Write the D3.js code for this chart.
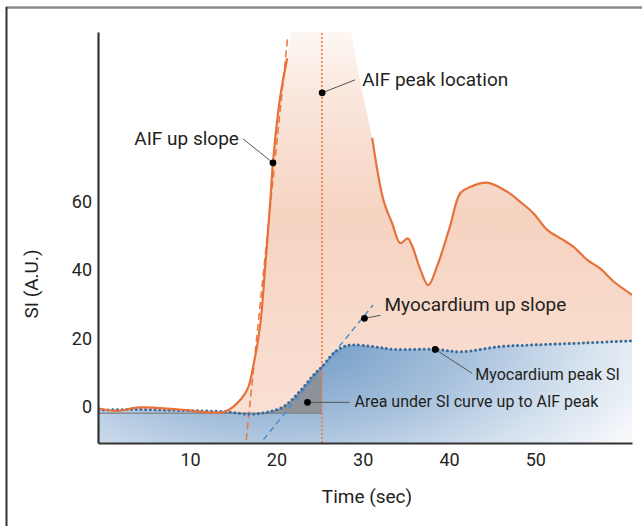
<!DOCTYPE html>
<html lang="en">

<head>
    <meta charset="UTF-8">
    <title>AIF and myocardium SI curves</title>
    <style>
        body { margin: 0; background: #fff; }
        svg { display: block; }
    </style>
</head>

<body>
    <script src="https://d3js.org/d3.v7.min.js"></script>
    <div id="chart"></div>
    <script>

        const width = 642;
        const height = 526;

        // data: arterial input function (orange) and myocardium (blue dotted)
        const aifTime = [-0.6, 1.5, 4.2, 8.8, 13.8, 15.0, 16.6, 17.3, 18.1, 18.7, 19.3, 19.6, 20.4, 21.25,
            21.9, 23.0, 25.0, 27.0, 28.6, 29.8,
            31.1, 32.4, 33.4, 34.35, 35.2, 35.7, 36.7, 37.6, 38.6, 40.1, 41.3, 42.5, 44.4, 46.7, 48.25,
            49.8, 51.4, 52.9, 54.4, 56.0, 57.5, 59.1, 61.2];
        const aifSI = [-0.5, -1.2, -0.2, -0.8, -1.6, 0, 4.9, 11.7, 23.4, 41, 60.5, 71.4, 90, 102,
            112, 128, 136, 127, 110, 94,
            78.7, 60.5, 53.8, 47.9, 49.3, 47.3, 40, 35.6, 41, 52.7, 62.5, 64.4, 65.6, 63, 60,
            56.6, 51.7, 49.3, 46.9, 43, 40.5, 36.6, 32.8];
        // the drawn AIF line is broken where it leaves the panel
        const aifLineBreak = [21.3, 31.0];

        const myoTime = [-0.6, 3.4, 7.3, 11.2, 14.3, 17.0, 18.9, 20.8, 22.75, 24.3, 25.27, 26.6, 27.8, 28.9,
            31.25, 33.6, 38.4, 41.3, 45.9, 49.8, 56.0, 61.2];
        const myoSI = [-1, -0.8, -1, -1.2, -1.5, -2.2, -1.6, 0, 4.6, 9.3, 11.7, 15.6, 17.6, 18.1,
            17.6, 16.8, 16.8, 16.1, 17.6, 18.1, 18.7, 19.3];

        const baselineSI = -1.9;
        const aifPeakTime = 25.27;

        // tangent lines (two end points each)
        const aifSlopeT = [16.5, 21.3], aifSlopeV = [-9.8, 108];
        const myoSlopeT = [18.5, 31.2], myoSlopeV = [-9.6, 29.8];

        // annotations
        const noteText = ["AIF up slope", "AIF peak location", "Myocardium up slope", "Myocardium peak SI", "Area under SI curve up to AIF peak"];
        const noteT = [19.6, 25.3, 30.2, 38.4, 23.6];
        const noteV = [71.4, 91.9, 25.9, 16.8, 1.3];

        const xTicks = [10, 20, 30, 40, 50];
        const yTicks = [0, 20, 40, 60];

        // layout
        const x = d3.scaleLinear().domain([-0.67, 61.2]).range([98, 632]);
        const y = d3.scaleLinear().domain([-10.6, 109.7]).range([443, 32]);

        const svg = d3.select("#chart").append("svg")
            .attr("width", width)
            .attr("height", height)
            .attr("font-family", "Roboto, sans-serif");

        const defs = svg.append("defs");

        defs.append("clipPath").attr("id", "plot")
            .append("rect")
            .attr("x", x.range()[0]).attr("y", y.range()[1])
            .attr("width", x.range()[1] - x.range()[0])
            .attr("height", y.range()[0] - y.range()[1]);

        const peach = defs.append("linearGradient").attr("id", "peach")
            .attr("gradientUnits", "userSpaceOnUse")
            .attr("x1", 0).attr("x2", 0).attr("y1", y.range()[1]).attr("y2", y.range()[0]);
        [[0, "#fdf7f3"], [0.15, "#fae7dd"], [0.45, "#f6d3c1"], [1, "#fae2d6"]].forEach(s =>
            peach.append("stop").attr("offset", s[0]).attr("stop-color", s[1]));

        const blue = defs.append("radialGradient").attr("id", "blue")
            .attr("gradientUnits", "userSpaceOnUse")
            .attr("cx", 0).attr("cy", 0).attr("r", 1)
            .attr("gradientTransform", "translate(280,340) scale(400,190)");
        [[0, "#6a96c3"], [0.45, "#a4bfdb"], [0.75, "#d3e0ee"], [1, "#f6f8fb"]].forEach(s =>
            blue.append("stop").attr("offset", s[0]).attr("stop-color", s[1]));

        const aif = aifTime.map((t, i) => ({ t: t, v: aifSI[i] }));
        const myo = myoTime.map((t, i) => ({ t: t, v: myoSI[i] }));

        const curve = d3.curveCatmullRom.alpha(0.5);
        const line = d3.line().x(d => x(d.t)).y(d => y(d.v)).curve(curve);
        const area = d3.area().x(d => x(d.t)).y0(y.range()[0]).y1(d => y(d.v)).curve(curve);

        const plot = svg.append("g").attr("clip-path", "url(#plot)");

        // fills
        plot.append("path").datum(aif).attr("d", area).attr("fill", "url(#peach)");
        plot.append("path").datum(myo).attr("d", area).attr("fill", "url(#blue)");

        // grey area under myocardium curve up to AIF peak
        const greyArea = d3.area().x(d => x(d.t)).y0(y(baselineSI))
            .y1(d => y(Math.max(d.v, baselineSI))).curve(curve);
        plot.append("path")
            .datum(myo.filter(d => d.t >= 17 && d.t <= aifPeakTime))
            .attr("d", greyArea)
            .attr("fill", "#8d8f93")
            .attr("fill-opacity", 0.9);

        plot.append("line")
            .attr("x1", x.range()[0]).attr("x2", x(aifPeakTime))
            .attr("y1", y(baselineSI)).attr("y2", y(baselineSI))
            .attr("stroke", "#8a8a8a").attr("stroke-width", 1.5);

        // tangent lines
        plot.append("line")
            .attr("x1", x(aifSlopeT[0])).attr("y1", y(aifSlopeV[0]))
            .attr("x2", x(aifSlopeT[1])).attr("y2", y(aifSlopeV[1]))
            .attr("stroke", "#ec7a45").attr("stroke-width", 1.6)
            .attr("stroke-dasharray", "7 4");
        plot.append("line")
            .attr("x1", x(myoSlopeT[0])).attr("y1", y(myoSlopeV[0]))
            .attr("x2", x(myoSlopeT[1])).attr("y2", y(myoSlopeV[1]))
            .attr("stroke", "#4a8fd2").attr("stroke-width", 1.5)
            .attr("stroke-dasharray", "6 4");

        // AIF peak location
        plot.append("line")
            .attr("x1", x(aifPeakTime)).attr("x2", x(aifPeakTime))
            .attr("y1", y.range()[0]).attr("y2", y.range()[1])
            .attr("stroke", "#ec7a45").attr("stroke-width", 1.6)
            .attr("stroke-dasharray", "2 2");

        // curves
        plot.append("path")
            .datum(myo)
            .attr("d", line)
            .attr("fill", "none")
            .attr("stroke", "#376ca0")
            .attr("stroke-width", 3)
            .attr("stroke-linecap", "round")
            .attr("stroke-dasharray", "0.1 4.6");

        [aif.filter(d => d.t <= aifLineBreak[0]), aif.filter(d => d.t >= aifLineBreak[1])].forEach(seg =>
            plot.append("path")
                .datum(seg)
                .attr("d", line)
                .attr("fill", "none")
                .attr("stroke", "#e8713a")
                .attr("stroke-width", 2.2));

        // axes
        const xAxis = svg.append("g")
            .attr("transform", `translate(0,${y.range()[0]})`)
            .call(d3.axisBottom(x).tickValues(xTicks).tickSize(0).tickPadding(10));
        const yAxis = svg.append("g")
            .attr("transform", `translate(${x.range()[0]},0)`)
            .call(d3.axisLeft(y).tickValues(yTicks).tickSize(0).tickPadding(6));
        [xAxis, yAxis].forEach(a => {
            a.select(".domain").attr("stroke", "#333").attr("stroke-width", 2.2);
            a.selectAll("text").attr("font-size", 18).attr("font-family", "Roboto, sans-serif").attr("fill", "#231f20");
        });

        svg.append("text")
            .attr("x", 367).attr("y", 503)
            .attr("text-anchor", "middle")
            .attr("font-size", 19).attr("fill", "#231f20")
            .text("Time (sec)");
        svg.append("text")
            .attr("transform", "translate(38,284) rotate(-90)")
            .attr("text-anchor", "middle")
            .attr("font-size", 19).attr("fill", "#231f20")
            .text("SI (A.U.)");

        // annotation layout: leader end offset, label offset, anchor, size
        const noteLayout = [
            { lx: -30, ly: -24, tx: -34, ty: -18, anchor: "end", size: 19 },
            { lx: 33, ly: -13, tx: 40, ty: -7, anchor: "start", size: 19 },
            { lx: 16, ly: -3, tx: 20, ty: -7, anchor: "start", size: 19 },
            { lx: 37, ly: 24, tx: 40, ty: 31, anchor: "start", size: 16 },
            { lx: 42, ly: 0, tx: 47, ty: 5, anchor: "start", size: 16 }
        ];

        const notes = svg.append("g").selectAll("g")
            .data(noteText.map((s, i) => ({ text: s, t: noteT[i], v: noteV[i], l: noteLayout[i] })))
            .join("g")
            .attr("transform", d => `translate(${x(d.t)},${y(d.v)})`);
        notes.append("line")
            .attr("x2", d => d.l.lx).attr("y2", d => d.l.ly)
            .attr("stroke", "#555").attr("stroke-width", 1);
        notes.append("circle").attr("r", 3.4).attr("fill", "#000");
        notes.append("text")
            .attr("x", d => d.l.tx).attr("y", d => d.l.ty)
            .attr("text-anchor", d => d.l.anchor)
            .attr("font-size", d => d.l.size)
            .attr("fill", "#231f20")
            .text(d => d.text);

        // figure frame (top and left edges)
        svg.append("line").attr("x1", 6).attr("x2", width).attr("y1", 7.5).attr("y2", 7.5)
            .attr("stroke", "#8a8a8a").attr("stroke-width", 2.5);
        svg.append("line").attr("x1", 6.5).attr("x2", 6.5).attr("y1", 7).attr("y2", height)
            .attr("stroke", "#333").attr("stroke-width", 2);

    </script>
</body>

</html>
